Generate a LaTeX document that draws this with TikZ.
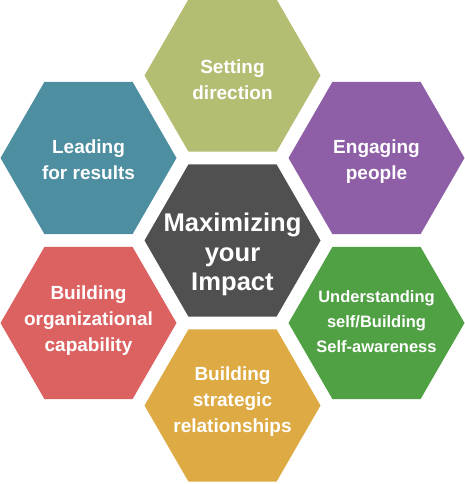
\documentclass[tikz,border=0pt]{standalone}
\usepackage{fontspec}
\setmainfont{Liberation Sans}
\usetikzlibrary{shapes.geometric}

\definecolor{hexgray}{HTML}{505050}
\definecolor{hexolive}{HTML}{B5BD72}
\definecolor{hexteal}{HTML}{4D8EA0}
\definecolor{hexpurple}{HTML}{8E5EA6}
\definecolor{hexred}{HTML}{DB6261}
\definecolor{hexgreen}{HTML}{50A044}
\definecolor{hexgold}{HTML}{DDAA43}

\begin{document}
\begin{tikzpicture}[x=1pt, y=1pt, node distance=165pt]
    \tikzstyle{hexa} = [regular polygon, regular polygon sides=6,
	minimum size=176pt, inner sep=0pt, outer sep=0pt]
    \tikzstyle{caption} = [text=white, align=center, inner sep=0pt,
	font=\bfseries\fontsize{19}{26}\selectfont]
	\useasboundingbox (0,0) rectangle (464,-484);
	\begin{scope}
		\path
			node[hexa, fill=hexgray] (C) at (232.5,-240.5) {}
			node[hexa, fill=hexolive, above of=C] (T) {}
			node[hexa, fill=hexgold, below of=C] (B) {}
			node[hexa, fill=hexteal, above of=C, xshift=-144pt, yshift=-82.5pt] (TL) {}
			node[hexa, fill=hexpurple, above of=C, xshift=144pt, yshift=-82.5pt] (TR) {}
			node[hexa, fill=hexred, below of=C, xshift=-144pt, yshift=82.5pt] (BL) {}
			node[hexa, fill=hexgreen, below of=C, xshift=144pt, yshift=82.5pt] (BR) {}
			
			node[caption, font=\bfseries\fontsize{25.6}{29.5}\selectfont, yshift=-14pt] (lC) at (C) {Maximizing\\your\\Impact}
			node[caption, yshift=-4.7pt] (lT) at (T) {Setting\\direction}
			node[caption, yshift=3.8pt] (lB) at (B) {Building\\strategic\\relationships}
			node[caption, yshift=-2.2pt] (lTL) at (TL) {Leading\\for results}
			node[caption, yshift=-4pt] (lTR) at (TR) {Engaging\\people}
			node[caption, yshift=2pt] (lBL) at (BL) {Building\\organizational\\capability}
			node[caption, font=\bfseries\fontsize{16.5}{25}\selectfont, yshift=1pt] (lBR) at (BR) {Understanding\\self/Building\\Self-awareness}
	   ;
	\end{scope}
\end{tikzpicture}
\end{document}
